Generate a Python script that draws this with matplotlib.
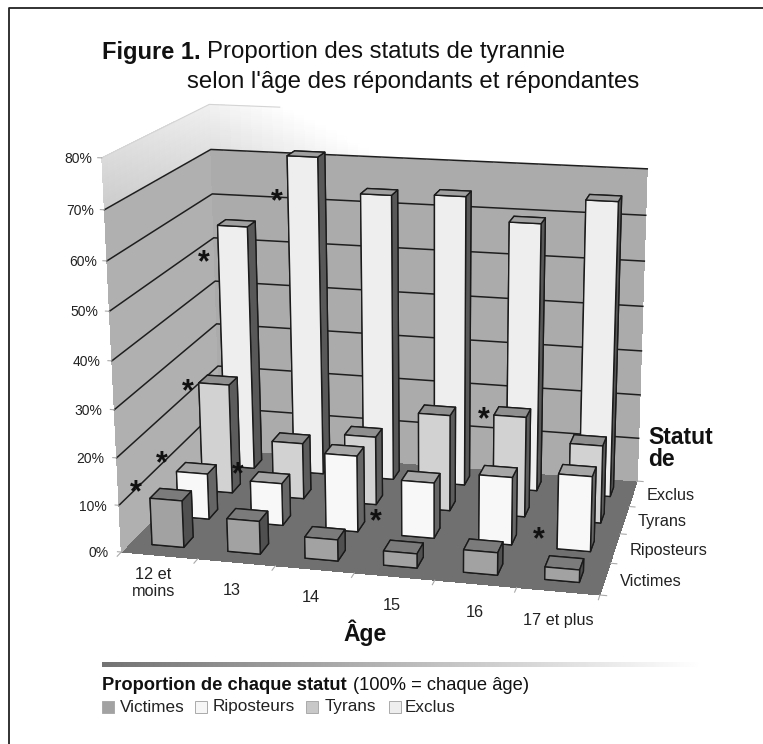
import numpy as np
import matplotlib
matplotlib.use('Agg')
import matplotlib.pyplot as plt
from matplotlib.patches import Rectangle
from mpl_toolkits.mplot3d.art3d import Poly3DCollection

plt.rcParams['font.family'] = ['Liberation Sans', 'DejaVu Sans']

ages = ['12 et\nmoins', '13', '14', '15', '16', '17 et plus']
statuts = ['Victimes', 'Riposteurs', 'Tyrans', 'Exclus']
victimes = [10, 7, 4.5, 3, 4.7, 2.6]
riposteurs = [10, 9.2, 16.5, 12, 14.5, 16]
tyrans = [24.5, 12.5, 15.2, 21.2, 22, 17]
exclus = [55.5, 71.5, 64, 64.5, 59.5, 65]
series = [victimes, riposteurs, tyrans, exclus]
pct_ticks = [0, 10, 20, 30, 40, 50, 60, 70, 80]

W, H = 763, 744

# (front, top, side) greys per series
colors = [('#a2a2a2', '#7b7b7b', '#505050'),
          ('#f8f8f8', '#a6a6a6', '#666666'),
          ('#d2d2d2', '#8f8f8f', '#5c5c5c'),
          ('#eeeeee', '#a0a0a0', '#585858')]

# cube corners -> picture pixels, used to fit the perspective
corners = [((0, 0, 0), (120, 551)), ((6, 0, 0), (600, 596)),
           ((6, 4, 0), (637, 480)), ((0, 4, 0), (222, 450)),
           ((0, 0, 80), (103, 158)), ((0, 4, 80), (208, 104)),
           ((6, 4, 80), (649, 122))]
A, b = [], []
for (x, y, z), (u, v) in corners:
    A.append([x, y, z, 1, 0, 0, 0, 0, -u*x, -u*y, -u*z])
    A.append([0, 0, 0, 0, x, y, z, 1, -v*x, -v*y, -v*z])
    b += [u, v]
p = np.linalg.lstsq(np.array(A, float), np.array(b, float), rcond=None)[0]
w_row = np.array([p[8], p[9], p[10], 1.0])
# mplot3d wants x, y in -1..1 and depth below 0
M = np.array([2/H*p[:4] - w_row,
              -2/H*p[4:8] + w_row,
              -0.5*w_row + np.array([-0.002, 0.01, -0.0001, 0]),
              w_row])

fig = plt.figure(figsize=(W/100, H/100), dpi=100, facecolor='white')
ax = fig.add_axes([0, 0, H/W, 1], projection='3d', computed_zorder=False)
ax.set_xticks([])
ax.set_yticks([])
ax.set_zticks([])
ax.set_axis_off()
ax.patch.set_alpha(0)
ax.get_proj = lambda: M
ax.viewLim.set_points(np.array([[-1, -1], [1, 1]], float))


def quad(pts, color, z):
    ax.add_collection3d(Poly3DCollection([pts], facecolors=color, edgecolors='none',
                                         linewidths=0, antialiased=False, zorder=z))


# floor and walls
quad([(0, 0, 0), (6, 0, 0), (6, 4, 0), (0, 4, 0)], '#707070', 1)
quad([(0, 0, 0), (0, 4, 0), (0, 4, 70), (0, 0, 70)], '#b0b0b0', 1)
quad([(0, 4, 0), (6, 4, 0), (6, 4, 70), (0, 4, 70)], '#ababab', 1)
# fading band above 70%
for s in np.arange(70, 80, 0.5):
    t = (s - 70) / 10
    for k in range(40):
        x0 = k * 0.15
        shade = min(1, 0.88 + 0.07*t + 0.12*k/16)
        quad([(x0, 4, s), (x0 + 0.15, 4, s), (x0 + 0.15, 4, s + 0.5), (x0, 4, s + 0.5)], str(shade), 1)
    for k in range(20):
        y0 = k * 0.2
        shade = 0.80 + 0.06*t + 0.08*k/19
        quad([(0, y0, s), (0, y0 + 0.2, s), (0, y0 + 0.2, s + 0.5), (0, y0, s + 0.5)], str(shade), 1)
ax.plot([0, 0, 1], [0, 4, 4], [80, 80, 80], color='#d4d4d4', lw=0.8, zorder=2)

# grid
for z in pct_ticks[1:-1]:
    ax.plot([0, 0, 6], [0, 4, 4], [z, z, z], color='#1e1e1e', lw=1.1, zorder=2)
for z in pct_ticks:
    ax.plot([0, -0.05], [0, 0], [z, z], color='#aaaaaa', lw=0.8, zorder=2)
    ax.text(-0.14 + z*0.0007, -0.08, z, f'{z}%', ha='right', va='center', fontsize=10, color='#222222', zorder=9)

# bars, back row first
dx, dy = 0.42, 0.36
for j in range(3, -1, -1):
    front, top, side = colors[j]
    # bar3d face order: bottom, top, front, back, left, right
    face = [top, top, front, front, side, side]
    for i in range(6):
        ax.bar3d(i + 0.5 - dx/2, j + 0.5 - dy/2, 0, dx, dy, series[j][i], color=face,
                 shade=False, edgecolor='#1a1a1a', linewidth=1.0, zorder=3 + (3 - j) + i*0.01)

# axis ticks and labels
for i in range(7):
    ax.plot([i, i], [0, -0.14], [0, 0], color='#aaaaaa', lw=0.8, zorder=2)
for j in range(5):
    ax.plot([6, 6.08], [j, j], [0, 0], color='#aaaaaa', lw=0.8, zorder=2)
for i, lab in enumerate(ages):
    ax.text(i + 0.72 - 0.018*i, -0.83, 0, lab, ha='center', va='center', fontsize=11.7, color='#222222',
            linespacing=1.15, zorder=9)
for j, lab in enumerate(statuts):
    ax.text(6.18, j + 0.47, 0, lab, ha='left', va='center', fontsize=11.7, color='#222222', zorder=9)

# significance marks
stars = [(136, 489), (162, 460), (188, 388), (204, 259), (277, 198),
         (238, 471), (376, 518), (484, 416), (539, 536)]
for u, v in stars:
    fig.text(u/W, 1 - (v + 4)/H, '*', fontsize=22, fontweight='bold', ha='center', va='center', color='#111111')

# title and axis titles
fig.text(102/W, 1 - 52/H, 'Figure 1.', fontsize=17, fontweight='bold', va='center', color='#111111')
fig.text(207/W, 1 - 52/H, 'Proportion des statuts de tyrannie', fontsize=17.3, va='center', color='#111111')
fig.text(187/W, 1 - 82/H, "selon l'âge des répondants et répondantes", fontsize=17.3, va='center', color='#111111')
fig.text(365/W, 1 - 633/H, 'Âge', fontsize=16.5, fontweight='bold', ha='center', va='center', color='#111111')
fig.text(648/W, 1 - 437/H, 'Statut', fontsize=16.5, fontweight='bold', va='center', color='#111111')
fig.text(648/W, 1 - 459/H, 'de', fontsize=16.5, fontweight='bold', va='center', color='#111111')

# outer frame, only left and top show
fig.add_artist(plt.Line2D([9/W, 9/W, 1], [0, 1 - 8/H, 1 - 8/H], color='#222222', lw=1.3))

# gradient rule
rule = fig.add_axes([102/W, 1 - 667/H, 600/W, 5/H])
rule.imshow(np.linspace(0.45, 1, 256)[None, :], aspect='auto', cmap='gray', vmin=0, vmax=1)
rule.set_xticks([])
rule.set_yticks([])
rule.set_axis_off()

# legend
fig.text(102/W, 1 - 685/H, 'Proportion de chaque statut', fontsize=13.2, fontweight='bold', va='center', color='#111111')
fig.text(353/W, 1 - 685/H, '(100% = chaque âge)', fontsize=13.2, va='center', color='#111111')
leg_x = [102, 195, 306, 389]
leg_t = [120, 213, 325, 405]
leg_c = ['#a2a2a2', '#f6f6f6', '#c8c8c8', '#eeeeee']
for lx, tx, c, name in zip(leg_x, leg_t, leg_c, statuts):
    fig.add_artist(Rectangle((lx/W, 1 - 713/H), 12/W, 12/H, transform=fig.transFigure,
                             facecolor=c, edgecolor='#aaaaaa', lw=0.7))
    fig.text(tx/W, 1 - 707/H, name, fontsize=12.3, va='center', color='#222222')

fig.savefig('out.png', dpi=100)
